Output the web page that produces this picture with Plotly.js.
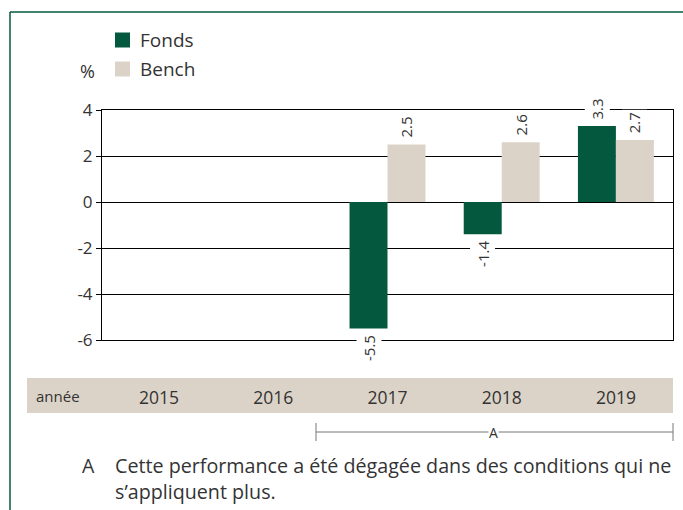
<!DOCTYPE html>
<html>
<head>
<meta charset="utf-8">
<script src="https://cdn.plot.ly/plotly-3.0.1.min.js"></script>
<style>html,body{margin:0;padding:0;background:#fff;}#chart{width:683px;height:510px;}</style>
</head>
<body>
<div id="chart"></div>
<script>
// ---- data ----
const years = ['2015', '2016', '2017', '2018', '2019'];
const fonds = [null, null, -5.5, -1.4, 3.3];
const bench = [null, null, 2.5, 2.6, 2.7];
const seriesNames = ['Fonds', 'Bench'];
const yTicks = [-6, -4, -2, 0, 2, 4];
const footnoteMark = 'A';
const footnoteLines = ['Cette performance a été dégagée dans des conditions qui ne', 's’appliquent plus.'];

// ---- layout helpers ----
const W = 683, H = 510;
const L = 102, R = 673, T = 110, B = 340;
const px = X => (X - L) / (R - L);
const py = Y => (B - Y) / (B - T);
const GREEN = '#03583e', BEIGE = '#dcd3c8', TXT = '#333333';
const FONT = 'Open Sans, Noto Sans, sans-serif';
const bargap = 0.335;
const half = (1 - bargap) / 4;
const colors = [GREEN, BEIGE];

const traces = [
  {type: 'bar', name: seriesNames[0], x: years, y: fonds, marker: {color: GREEN}, hoverinfo: 'none', showlegend: false},
  {type: 'bar', name: seriesNames[1], x: years, y: bench, marker: {color: BEIGE}, hoverinfo: 'none', showlegend: false}
];

const annotations = [];
[fonds, bench].forEach((arr, s) => {
  arr.forEach((v, i) => {
    if (v === null) return;
    annotations.push({
      x: i + (s === 0 ? -half : half), y: v, xref: 'x', yref: 'y',
      text: v.toFixed(1), showarrow: false, textangle: -90,
      yanchor: v >= 0 ? 'bottom' : 'top', xanchor: 'center',
      yshift: v >= 0 ? 4 : -4,
      bgcolor: '#ffffff', borderpad: 2,
      font: {family: FONT, size: 15, color: TXT}
    });
  });
});
const pa = (X, Y, text, size, xanchor, extra) => Object.assign({
  xref: 'paper', yref: 'paper', x: px(X), y: py(Y), text: text, showarrow: false,
  xanchor: xanchor, yanchor: 'middle', font: {family: FONT, size: size, color: TXT}
}, extra || {});
annotations.push(
  pa(87, 71, '%', 18, 'center'),
  pa(58, 396, 'année', 15, 'center'),
  pa(494, 432, footnoteMark, 14, 'center', {bgcolor: '#ffffff', borderpad: 0}),
  pa(80, 465, footnoteMark, 19.5, 'left'),
  pa(113, 465, footnoteLines[0], 19.7, 'left'),
  pa(113, 491, footnoteLines[1], 19.7, 'left')
);
// legend (manual, to match the reference layout)
const legendY = [40, 69];
const shapes = [];
seriesNames.forEach((n, k) => {
  shapes.push({type: 'rect', xref: 'paper', yref: 'paper', x0: px(115), x1: px(130),
               y0: py(legendY[k] - 7.5), y1: py(legendY[k] + 7.5), fillcolor: colors[k], line: {width: 0}});
  annotations.push(pa(138, legendY[k], n, 19, 'left'));
});

shapes.push(
  // frame
  {type: 'line', xref: 'paper', yref: 'paper', x0: px(10), x1: px(10), y0: py(12), y1: py(512), line: {color: GREEN, width: 1.5}},
  {type: 'line', xref: 'paper', yref: 'paper', x0: px(10), x1: px(685), y0: py(12), y1: py(12), line: {color: GREEN, width: 1.5}},
  // year band
  {type: 'rect', xref: 'paper', yref: 'paper', x0: px(27), x1: px(673), y0: py(378), y1: py(413), fillcolor: BEIGE, line: {width: 0}, layer: 'below'},
  // bracket
  {type: 'line', xref: 'paper', yref: 'paper', x0: px(316), x1: px(673), y0: py(432), y1: py(432), line: {color: '#777', width: 1}},
  {type: 'line', xref: 'paper', yref: 'paper', x0: px(316), x1: px(316), y0: py(423), y1: py(441), line: {color: '#777', width: 1}},
  {type: 'line', xref: 'paper', yref: 'paper', x0: px(673), x1: px(673), y0: py(423), y1: py(441), line: {color: '#777', width: 1}}
);

const layout = {
  width: W, height: H,
  margin: {l: L, r: W - R, t: T, b: H - B, pad: 0},
  paper_bgcolor: '#ffffff', plot_bgcolor: '#ffffff',
  font: {family: FONT, color: TXT},
  barmode: 'group', bargap: bargap, bargroupgap: 0,
  showlegend: false,
  xaxis: {type: 'category', showgrid: false, zeroline: false, showline: true, mirror: true,
          linecolor: '#000', linewidth: 1, ticks: '', ticklabelstandoff: 42,
          tickfont: {family: FONT, size: 17.5, color: TXT}, fixedrange: true},
  yaxis: {range: [-6, 4], tickvals: yTicks, ticktext: yTicks.map(String), showgrid: true, gridcolor: '#000', gridwidth: 1,
          zeroline: true, zerolinecolor: '#000', zerolinewidth: 1, showline: true, mirror: true,
          linecolor: '#000', linewidth: 1, ticks: 'outside', ticklen: 5, tickcolor: '#000',
          tickfont: {family: FONT, size: 17, color: TXT}, fixedrange: true},
  annotations: annotations,
  shapes: shapes
};

Plotly.newPlot('chart', traces, layout, {displayModeBar: false, staticPlot: true});
</script>
</body>
</html>
